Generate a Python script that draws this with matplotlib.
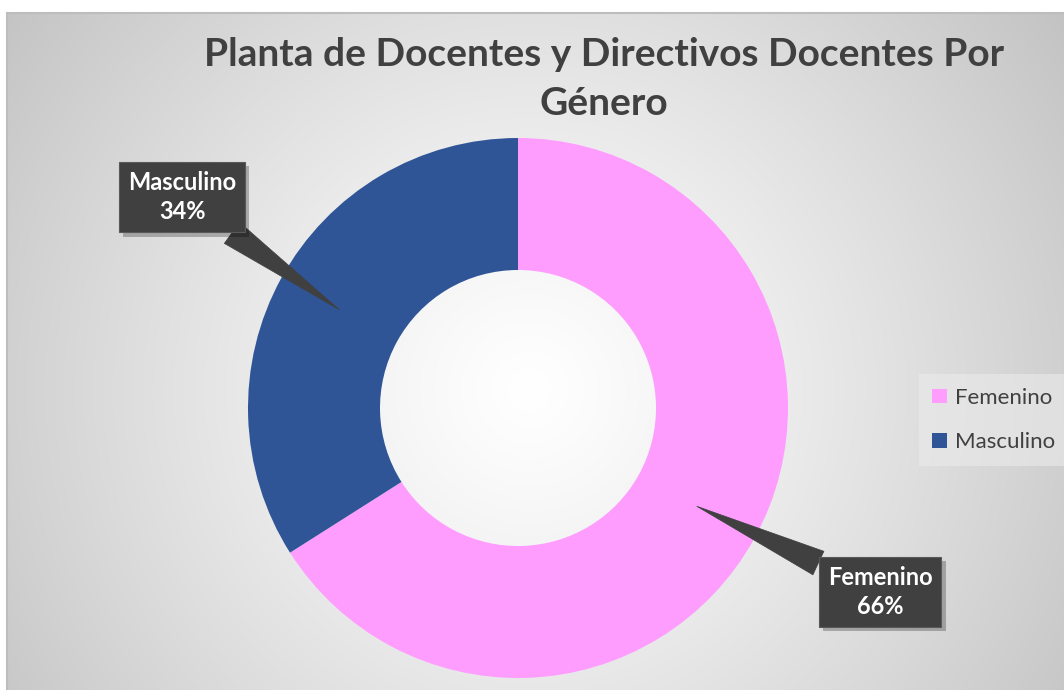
import numpy as np
import matplotlib
matplotlib.use("Agg")
import matplotlib.pyplot as plt
import matplotlib.patheffects as pe
from matplotlib.patches import Patch

# ---- data ----
categories = ["Femenino", "Masculino"]
percentages = [66, 34]
colors = ["#FF9DFF", "#2F5597"]
title = "Planta de Docentes y Directivos Docentes Por\nGénero"

W, H = 1064, 690
fig = plt.figure(figsize=(W / 100, H / 100), dpi=100)
fig.patch.set_facecolor("white")

# ---- background radial gradient (chart area) ----
bg = fig.add_axes([7 / W, 0, (W - 7) / W, (H - 13) / H])
nx, ny = 400, 260
xx, yy = np.meshgrid(np.linspace(0, 1, nx), np.linspace(0, 1, ny))
cx, cy = (530 - 7) / (W - 7), (390 - 13) / (H - 13)
d = np.sqrt(((xx - cx) * (W - 7)) ** 2 + ((yy - cy) * (H - 13)) ** 2)
d = d / d.max()
g = 1.0 - 0.235 * np.clip(d, 0, 1) ** 1.2
img = np.dstack([g, g, g])
bg.imshow(img, extent=[0, 1, 0, 1], aspect="auto", origin="upper")
bg.set_xticks([]); bg.set_yticks([])
for s in ["right", "bottom"]:
    bg.spines[s].set_visible(False)
for s in ["left", "top"]:
    bg.spines[s].set_color("#BDBDBD")
    bg.spines[s].set_linewidth(1.5)

# ---- donut ----
cxp, cyp, R = 518, 408, 270  # pixel center / radius
ax = fig.add_axes([0, 0, 1, 1])
ax.patch.set_alpha(0)
wedges, _ = ax.pie(percentages, colors=colors, startangle=90,
                   counterclock=False, radius=1,
                   wedgeprops=dict(width=1 - 138 / 270, edgecolor="none"))
ax.set_aspect("auto")
ax.set_xlim(-cxp / R, (W - cxp) / R)
ax.set_ylim(-(H - cyp) / R, cyp / R)
ax.axis("off")

# ---- callout labels ----
label_pos = {"Femenino": (1.341, -0.681), "Masculino": (-1.244, 0.781)}
start = 90.0
for cat, pct in zip(categories, percentages):
    span = 360 * pct / 100
    mid = np.deg2rad(start - span / 2)
    start -= span
    r_mid = (1 + 138 / 270) / 2
    px, py = r_mid * np.cos(mid), r_mid * np.sin(mid)
    ann = ax.annotate(f"{cat}\n{pct}%", xy=(px, py), xytext=label_pos[cat],
                      ha="center", va="center", color="white",
                      fontsize=17, fontweight="bold", family="Lato",
                      linespacing=1.35,
                      bbox=dict(boxstyle="square,pad=0.38", fc="#404040", ec="#595959", lw=0.8),
                      arrowprops=dict(arrowstyle="wedge,tail_width=1.1,shrink_factor=0.5",
                                      fc="#404040", ec="#404040", lw=0.5,
                                      shrinkA=0, shrinkB=0))
    ann.get_bbox_patch().set_path_effects(
        [pe.SimplePatchShadow(offset=(3, -3), shadow_rgbFace="#000000", alpha=0.25),
         pe.Normal()])

# ---- title ----
fig.text(604 / W, 1 - 79 / H, title, ha="center", va="center",
         fontsize=28, fontweight="bold", family="Lato", color="#404040",
         linespacing=1.45)

# ---- legend ----
handles = [Patch(facecolor=c, edgecolor="none") for c in colors]
leg = fig.legend(handles, categories, loc="center left",
                 bbox_to_anchor=(919 / W, 1 - 420 / H),
                 frameon=True, fancybox=False,
                 prop={"family": "Lato", "size": 16},
                 handlelength=0.65, handleheight=0.65, handletextpad=0.35,
                 labelspacing=1.1, borderpad=0.6, borderaxespad=0,
                 labelcolor="#404040")
leg.get_frame().set_facecolor("#EBEBEB")
leg.get_frame().set_alpha(0.6)
leg.get_frame().set_edgecolor("none")

fig.savefig("out.png", dpi=100)
